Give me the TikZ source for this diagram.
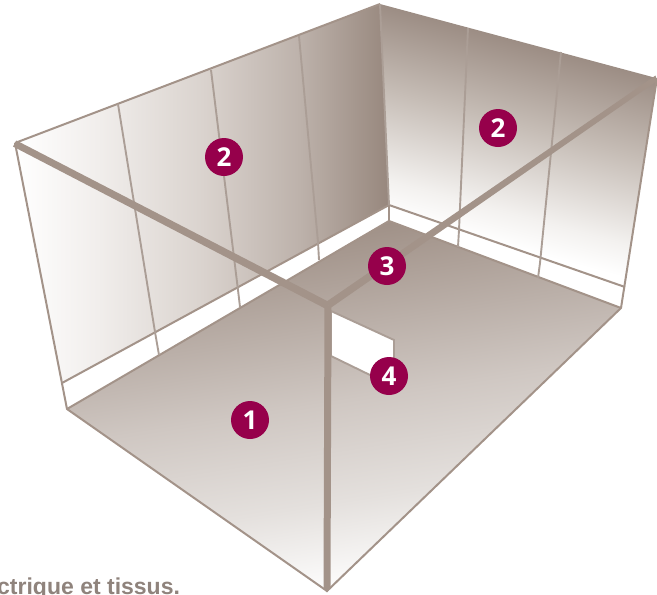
\documentclass[tikz,border=0pt]{standalone}
\usepackage{fontspec}
\setmainfont{Liberation Sans}
\newfontfamily\badgefont{Open Sans}
\definecolor{edge}{HTML}{A39389}
\definecolor{divider}{HTML}{AB9E96}
\definecolor{badge}{HTML}{96004B}
\definecolor{capt}{HTML}{8F837C}
\definecolor{la}{HTML}{F1EEEC}
\definecolor{lb}{HTML}{DAD3CE}
\definecolor{lc}{HTML}{BDB2AB}
\definecolor{ld}{HTML}{97877D}
\definecolor{ra}{HTML}{F3F1EF}
\definecolor{rb}{HTML}{C6BDB6}
\definecolor{rc}{HTML}{9C8D84}
\definecolor{fa}{HTML}{E4E0DD}
\definecolor{fb}{HTML}{CFC7C2}
\definecolor{fc}{HTML}{9A8A80}
\pgfdeclarehorizontalshading{leftwallshade}{100bp}{
  color(0bp)=(white); color(25bp)=(white);
  color(36bp)=(la); color(50bp)=(lb);
  color(63bp)=(lc); color(75bp)=(ld); color(100bp)=(ld)}
\pgfdeclareverticalshading{rightwallshade}{100bp}{
  color(0bp)=(white); color(26bp)=(white);
  color(34bp)=(ra); color(55bp)=(rb);
  color(75bp)=(rc); color(100bp)=(rc)}
\pgfdeclareverticalshading{floorshade}{100bp}{
  color(0bp)=(white); color(25bp)=(white);
  color(37bp)=(fa); color(50bp)=(fb);
  color(75bp)=(fc); color(100bp)=(fc)}
\tikzset{
  edgeline/.style={draw=edge,line width=2pt,line join=round},
  thinline/.style={draw=divider,line width=1.9pt},
  band/.style={fill=edge,draw=none},
  numbadge/.style={circle,fill=badge,minimum size=38pt,inner sep=0pt,text=white,font=\badgefont\bfseries\fontsize{26}{26}\selectfont},
}
\begin{document}
\begin{tikzpicture}[x=1pt,y=-1pt]
\useasboundingbox (0,0) rectangle (657,595);
\clip (0,0) rectangle (657,595);
% corners
\coordinate (A) at (15,143);
\coordinate (B) at (380,4);
\coordinate (C) at (657,78);
\coordinate (D) at (328,306);
\coordinate (E) at (67,409);
\coordinate (F) at (389,221);
\coordinate (G) at (621,308);
\coordinate (H) at (327,591);
\coordinate (LW) at (62,383);
\coordinate (BW) at (389,205);
\coordinate (RW) at (625,287);
% floor
\begin{scope}
\clip (E)--(F)--(G)--(H)--cycle;
\shade[shading=floorshade,transform canvas={rotate around={9:(H)}}] (-100,215) rectangle (800,596);
\end{scope}
% left wall
\begin{scope}
\clip (A)--(B)--(BW)--(LW)--cycle;
\shade[shading=leftwallshade] (15,0) rectangle (389,400);
\end{scope}
% right wall
\begin{scope}
\clip (B)--(C)--(RW)--(BW)--cycle;
\shade[shading=rightwallshade,transform canvas={rotate around={-15:(B)}}] (0,4) rectangle (900,209);
\end{scope}
% wall notch
\draw[fill=white,thinline] (331,311)--(394,340)--(394,366)--(370,375)--(331,356)--cycle;
% edges
\draw[edgeline] (A)--(B);
\draw[edgeline] (A)--(E)--(H)--(G)--(C);
\draw[edgeline] (E)--(F)--(G);
\draw[edgeline] (LW)--(BW)--(RW);
\draw[edgeline] (BW)--(F);
\draw[thinline] (B)--(BW);
% wall dividers
\draw[thinline] (118,104)--(155,332)--(159,355);
\draw[thinline] (211,70)--(238,290)--(240,307);
\draw[thinline] (299,36)--(318,242)--(319,260);
\draw[thinline] (468,28)--(459,230)--(458,247);
\draw[thinline] (561,52)--(540,263)--(538,278);
% heavy front edges
\fill[band] (16.5,140.5)--(330,302.5)--(327,309.5)--(13,146.5)--cycle;
\fill[band] (326,302)--(655.5,75.5)--(657,81)--(330.5,308)--cycle;
\fill[band] (324.5,306)--(331.5,306)--(330.5,588)--(327,592.5)--(323.5,588)--cycle;
% badges
\node[numbadge] (n1) at (250,420) {1};
\node[numbadge] (n2a) at (224,157) {2};
\node[numbadge] (n2b) at (498,128) {2};
\node[numbadge] (n3) at (387,266) {3};
\node[numbadge] (n4) at (389,376) {4};
% caption
\node[anchor=base west,inner sep=0pt,text=capt,font=\bfseries\fontsize{23}{23}\selectfont] (cap) at (-3,594) {ctrique et tissus.};
\end{tikzpicture}
\end{document}
